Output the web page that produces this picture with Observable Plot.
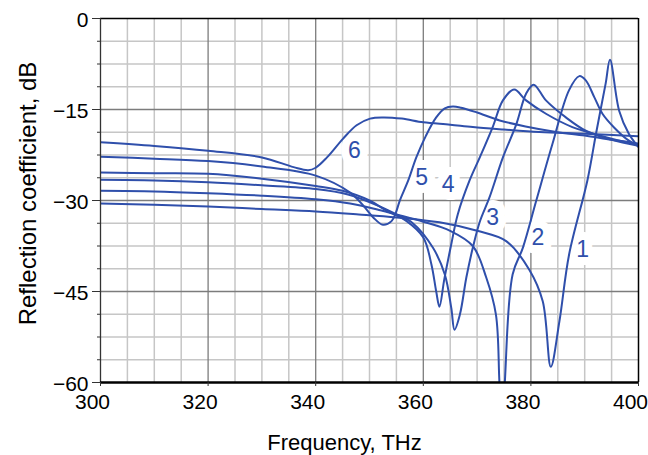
<!DOCTYPE html>
<html><head><meta charset="utf-8">
<script src="https://cdn.jsdelivr.net/npm/d3@7"></script>
<script src="https://cdn.jsdelivr.net/npm/@observablehq/plot@0.6"></script>
<style>body{margin:0;background:#fff} #chart svg{display:block}</style>
</head><body><div id="chart"></div>
<script>
// Tick labels and grid positions
const xTicks = [300, 320, 340, 360, 380, 400];
const yTicks = [0, -15, -30, -45, -60];
const xMinorGrid = [305, 310, 315, 325, 330, 335, 345, 350, 355, 365, 370, 375, 385, 390, 395];
const xMajorGrid = [320, 340, 360, 380];
const yMinorGrid = [-3.75, -7.5, -11.25, -18.75, -22.5, -26.25, -33.75, -37.5, -41.25, -48.75, -52.5, -56.25];
const yMajorGrid = [-15, -30, -45];

// Curve 1
const c1f  = [300, 310, 320, 330, 340, 348, 355, 363, 370, 375.4, 379.7, 382.2, 383.7, 385.3, 387.1, 390.5, 392.1, 393.9, 394.7, 396.4, 398.2, 400];
const c1db = [-30.5, -30.7, -31.0, -31.4, -31.8, -32.3, -32.8, -33.6, -35.0, -36.7, -41.4, -46.6, -57.4, -49.9, -38.9, -26.7, -19.0, -10.7, -6.8, -15.2, -19.0, -21.2];
// Curve 2
const c2f  = [300, 310, 320, 330, 340, 346.4, 352, 355, 360, 365, 369.2, 371.7, 373.5, 374.15, 374.65, 375.15, 376.6, 378.5, 381, 384, 387.1, 389, 390.2, 391.8, 393.3, 395.5, 398, 400];
const c2db = [-28.4, -28.5, -28.8, -29.2, -29.8, -30.5, -31.6, -32.3, -33.5, -35.0, -37.5, -42.7, -48.8, -60, -68, -60, -42.2, -37.8, -30.0, -20.7, -11.8, -9.5, -10.2, -13.0, -15.7, -18.0, -20.0, -21.0];
// Curve 3
const c3f  = [300, 310, 320, 330, 340, 346, 352, 355, 358, 361.8, 364, 365.2, 365.8, 366.8, 368, 369.2, 370.5, 372.3, 374.8, 377.3, 379.1, 380.5, 382.8, 386.5, 390.2, 395, 400];
const c3db = [-26.6, -26.7, -27.0, -27.5, -28.1, -29.0, -31.0, -32.3, -33.7, -37.8, -42.2, -47.7, -51.3, -48.8, -42.7, -37.8, -33.5, -29.5, -22.9, -17.4, -12.4, -10.9, -13.5, -16.3, -18.5, -20.0, -21.0];
// Curve 4
const c4f  = [300, 310, 320, 330, 340, 345, 350, 353, 356.9, 360, 361.5, 362.4, 363, 363.9, 365.2, 366.4, 368.6, 370.5, 372.9, 374.8, 376.9, 379.1, 382.8, 387.7, 390.5, 395, 400];
const c4db = [-25.4, -25.5, -25.6, -26.4, -27.6, -28.4, -30.0, -31.6, -33.4, -36.1, -40.5, -45.0, -47.5, -43.0, -37.2, -32.3, -26.7, -22.9, -17.9, -13.5, -11.7, -13.5, -15.7, -17.9, -18.7, -19.8, -20.8];
// Curve 5
const c5f  = [300, 310, 320, 330, 340, 346.4, 349, 350.7, 352.5, 354.1, 354.9, 355.6, 357.2, 358.7, 360.5, 362.4, 364, 365.5, 367, 370, 374.2, 379, 384.7, 390, 395, 400];
const c5db = [-22.8, -23.1, -23.5, -24.4, -25.9, -28.7, -31.0, -32.8, -34.0, -33.4, -32.0, -30.1, -26.7, -22.9, -19.3, -16.3, -14.8, -14.5, -14.7, -15.5, -16.8, -17.8, -18.7, -19.3, -20.0, -20.6];
// Curve 6
const c6f  = [300, 310, 320, 330, 335.9, 338.6, 340, 342.1, 345.1, 347.6, 350.1, 352.5, 356, 360, 365, 369.2, 375, 381.6, 390, 400];
const c6db = [-20.4, -21.0, -21.8, -22.9, -24.5, -25.0, -24.6, -22.9, -19.8, -17.6, -16.5, -16.3, -16.5, -17.1, -17.5, -17.9, -18.3, -18.7, -19.0, -19.4];

// Curve labels
const labelText = ["1", "2", "3", "4", "5", "6"];
const labelF    = [389.6, 381.3, 372.9, 364.6, 359.7, 347.2];
const labelDb   = [-38.1, -36.1, -32.8, -27.4, -26.2, -21.8];

const curveF = [c1f, c2f, c3f, c4f, c5f, c6f];
const curveDb = [c1db, c2db, c3db, c4db, c5db, c6db];
const series = [];
curveF.forEach((fs, k) => fs.forEach((f, i) => series.push({curve: k + 1, f, db: curveDb[k][i]})));
const labels = labelText.map((t, i) => ({t, f: labelF[i], db: labelDb[i]}));

const blue = "#2f4fab";

const chart = Plot.plot({
  width: 648,
  height: 455,
  marginLeft: 100,
  marginRight: 10,
  marginTop: 18,
  marginBottom: 73,
  x: {domain: [300, 400]},
  y: {domain: [-60, 0]},
  style: {fontFamily: "'Liberation Sans', Arial, sans-serif", background: "white", color: "black"},
  marks: [
    Plot.ruleX(xMinorGrid, {stroke: "#c6c6c6", strokeWidth: 1.5}),
    Plot.ruleY(yMinorGrid, {stroke: "#c6c6c6", strokeWidth: 1.5}),
    Plot.ruleX(xMajorGrid, {stroke: "#7c7c7c", strokeWidth: 1.3}),
    Plot.ruleY(yMajorGrid, {stroke: "#7c7c7c", strokeWidth: 1.3}),
    Plot.text(labels, {x: "f", y: "db", text: "t", fill: blue, stroke: "white", strokeWidth: 16, fontSize: 23}),
    Plot.line(series, {x: "f", y: "db", z: "curve", stroke: blue, strokeWidth: 2, curve: "catmull-rom", clip: true}),
    Plot.ruleY([0], {stroke: "black", strokeWidth: 1.5}),
    Plot.ruleX([400], {stroke: "black", strokeWidth: 1.5}),
    Plot.ruleX([300], {stroke: "#333", strokeWidth: 1.3}),
    Plot.ruleY([-60], {stroke: "black", strokeWidth: 2.5}),
    Plot.axisX(xTicks, {tickSize: 4, tickFormat: () => "", label: null, stroke: "#333"}),
    Plot.axisX(xTicks, {tickSize: 0, tickPadding: 12, dx: -8, fontSize: 21, label: null, tickFormat: d3.format("d"), fill: "black"}),
    Plot.axisY(yMinorGrid, {tickSize: 3, tickFormat: () => "", label: null, stroke: "#333"}),
    Plot.axisY(yTicks, {tickSize: 8, tickFormat: () => "", label: null, stroke: "#333"}),
    Plot.axisY(yTicks, {tickSize: 0, tickPadding: 12, dy: 2, fontSize: 21, label: null, tickFormat: d3.format("d"), fill: "black"}),
    Plot.text(["Frequency, THz"], {frameAnchor: "bottom", dx: -25, dy: 60, lineAnchor: "middle", fontSize: 22, fill: "black"}),
    Plot.text(["Reflection coefficient, dB"], {frameAnchor: "left", textAnchor: "middle", rotate: -90, dx: -82, dy: -7, lineAnchor: "top", fontSize: 24, fill: "black"})
  ]
});
document.getElementById("chart").appendChild(chart);
</script>
</body></html>
